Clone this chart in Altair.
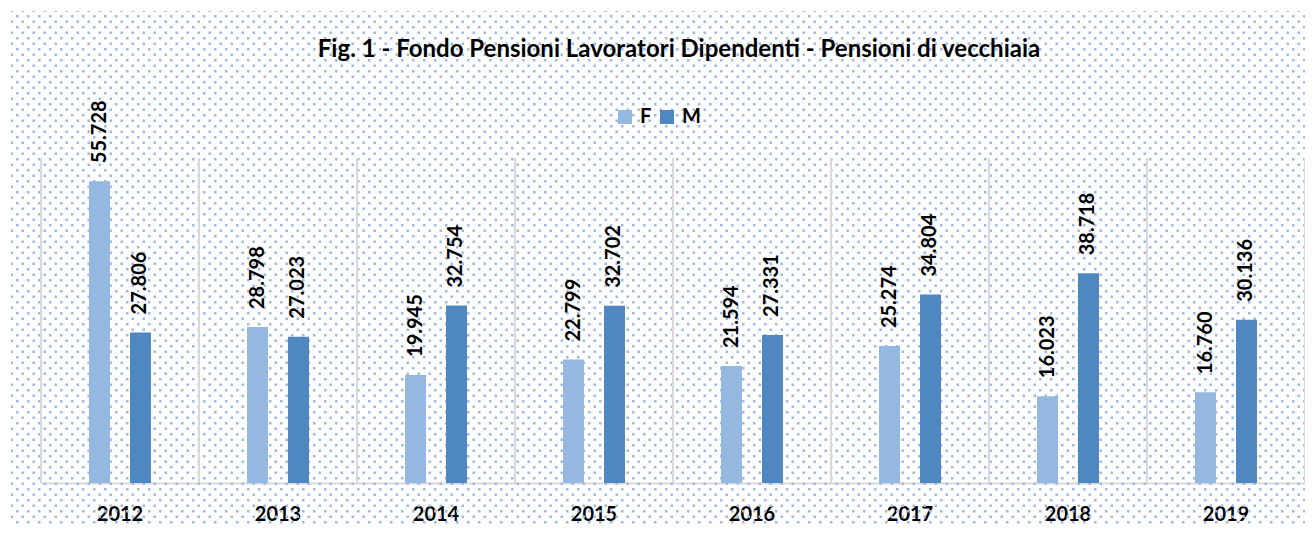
import base64
import altair as alt
import pandas as pd

# ---- data -------------------------------------------------------------
years = ["2012", "2013", "2014", "2015", "2016", "2017", "2018", "2019"]
f_values = [55728, 28798, 19945, 22799, 21594, 25274, 16023, 16760]
m_values = [27806, 27023, 32754, 32702, 27331, 34804, 38718, 30136]
genders = ["F", "M"]
title_text = "Fig. 1 - Fondo Pensioni Lavoratori Dipendenti - Pensioni di vecchiaia"

rows = []
for i, yr in enumerate(years):
    for g, vals in (("F", f_values), ("M", m_values)):
        v = vals[i]
        rows.append({"anno": yr, "sesso": g, "valore": v,
                     "etichetta": f"{v:,}".replace(",", ".")})
df = pd.DataFrame(rows)
years_df = pd.DataFrame({"anno": years})

# ---- style ------------------------------------------------------------
W, H = 1264, 325
FONT = "Lato"
GRID = "#d9d9d9"

svg = ('<svg xmlns="http://www.w3.org/2000/svg" width="1300" height="520">'
       '<defs><pattern id="p" x="5" y="4" width="11" height="11" patternUnits="userSpaceOnUse">'
       '<rect x="0" y="0" width="2.5" height="2.5" fill="#9fb8e4"/>'
       '<rect x="5.5" y="5.5" width="2.5" height="2.5" fill="#9fb8e4"/>'
       '</pattern></defs><rect width="1300" height="520" fill="url(#p)"/></svg>')
uri = "data:image/svg+xml;base64," + base64.b64encode(svg.encode()).decode()

x_scale = alt.Scale(domain=years, paddingInner=0, paddingOuter=0)
xo_scale = alt.Scale(domain=genders, paddingInner=0.146, paddingOuter=1)
y_scale = alt.Scale(domain=[0, 60000])
color_scale = alt.Scale(domain=genders, range=["#95B8E0", "#4F88C0"])

x_axis = alt.Axis(title=None, labelAngle=0, ticks=False, domain=True,
                  domainColor=GRID, domainWidth=2, grid=False,
                  labelFont=FONT, labelFontSize=20, labelFontWeight="bold",
                  labelColor="#000000", labelPadding=21)


def x_enc(**kw):
    return alt.X("anno:N", scale=x_scale, sort=years, axis=x_axis, **kw)


bg = alt.Chart(alt.Data(values=[{}])).mark_image(
    url=uri, width=1300, height=520, align="left", baseline="top", aspect=False
).encode(x=alt.value(-30), y=alt.value(-147))

xo_enc = alt.XOffset("sesso:N", scale=xo_scale, sort=genders)
y_enc = alt.Y("valore:Q", scale=y_scale, axis=None)

bars = alt.Chart(df).mark_bar(width=21).encode(
    x=x_enc(), xOffset=xo_enc, y=y_enc,
    color=alt.Color("sesso:N", scale=color_scale, sort=genders,
                    legend=alt.Legend(title=None, orient="none", legendX=574, legendY=-51,
                                      direction="horizontal", symbolType="square",
                                      symbolSize=196, symbolStrokeWidth=0,
                                      labelFont=FONT, labelFontSize=20,
                                      labelFontWeight="bold", labelColor="#000000",
                                      labelOffset=5, columnPadding=5)))

grid0 = alt.Chart(years_df).mark_rule(color=GRID, strokeWidth=2).encode(
    x=x_enc(bandPosition=0))
grid1 = alt.Chart(years_df).mark_rule(color=GRID, strokeWidth=2).encode(
    x=x_enc(bandPosition=1))

labels = alt.Chart(df).mark_text(
    angle=270, align="left", baseline="middle", dx=18,
    font=FONT, fontSize=20, fontWeight="bold", color="#000000"
).encode(x=x_enc(), xOffset=xo_enc, y=y_enc, text="etichetta:N")

chart = alt.layer(bg, bars, grid0, grid1, labels).properties(
    width=W, height=H,
    title=alt.Title(title_text, font=FONT, fontSize=24, fontWeight="bold",
                    color="#000000", anchor="middle", frame="group",
                    baseline="alphabetic", offset=-70, dx=6),
    padding={"left": 33, "top": 150, "right": 0, "bottom": 41},
    autosize=alt.AutoSizeParams(type="none"),
    background="white",
).configure_view(stroke=None)

chart.save("out.html", embed_options={"renderer": "svg", "actions": False})
